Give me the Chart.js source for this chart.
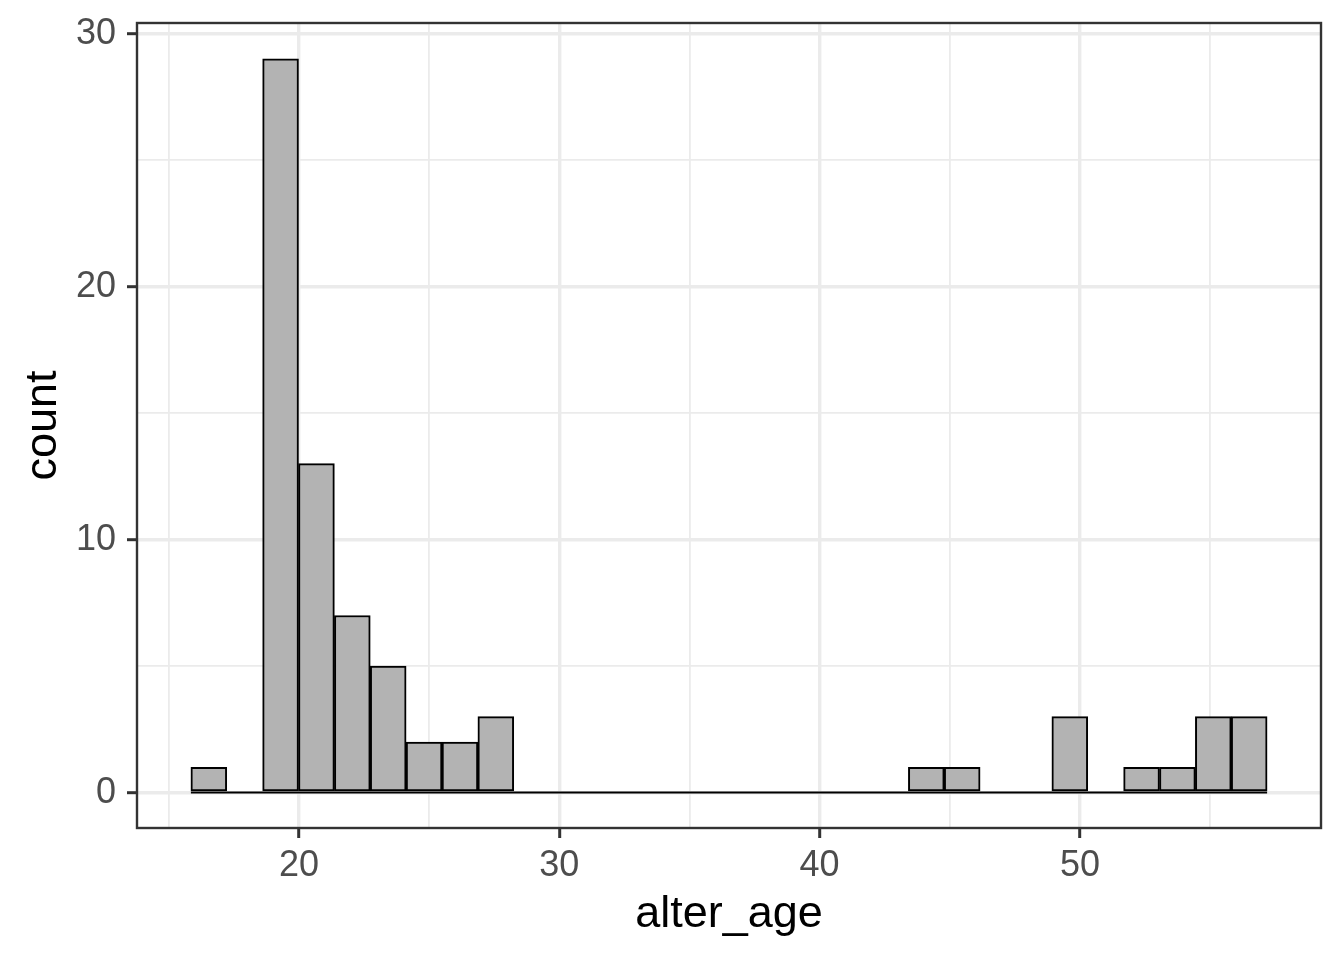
<!DOCTYPE html>
<html>
<head>
<meta charset="utf-8">
<script src="https://cdn.jsdelivr.net/npm/chart.js@4.4.1/dist/chart.umd.min.js"></script>
<style>
  html, body { margin: 0; padding: 0; background: #ffffff; }
  #wrap { width: 1344px; height: 960px; }
</style>
</head>
<body>
<div id="wrap"><canvas id="hist" width="1344" height="960"></canvas></div>
<script>
// histogram of alter_age, 30 bins
var binStart = 15.85;
var binWidth = 1.378;
var counts = [1, 0, 29, 13, 7, 5, 2, 2, 3, 0, 0, 0, 0, 0, 0,
              0, 0, 0, 0, 0, 1, 1, 0, 0, 3, 0, 1, 1, 3, 3];
var xTicks = [15, 20, 25, 30, 35, 40, 45, 50, 55];
var yTicks = [0, 5, 10, 15, 20, 25, 30];
var xRange = [13.78, 59.26];
var yRange = [-1.4, 30.42];

var barPoints = counts.map(function (c, i) {
  return { x: binStart + (i + 0.5) * binWidth, y: c };
});
var baseLine = [
  { x: binStart, y: 0 },
  { x: binStart + counts.length * binWidth, y: 0 }
];

var fontFamily = "'Liberation Sans', Arial, Helvetica, sans-serif";

function isMajor(v) { return Math.abs(v % 10) < 1e-9; }

var panelBorder = {
  id: 'panelBorder',
  afterDatasetsDraw: function (chart) {
    var a = chart.chartArea, ctx = chart.ctx;
    ctx.save();
    ctx.strokeStyle = '#333333';
    ctx.lineWidth = 2.4;
    ctx.strokeRect(a.left, a.top, a.right - a.left, a.bottom - a.top);
    ctx.restore();
  }
};

function gridOpts() {
  return {
    color: '#EBEBEB',
    lineWidth: function (ctx) { return isMajor(ctx.tick.value) ? 3.4 : 1.8; },
    drawTicks: true,
    tickLength: 10,
    tickWidth: 3,
    tickColor: function (ctx) { return isMajor(ctx.tick.value) ? '#333333' : 'rgba(0,0,0,0)'; },
    offset: false
  };
}

function noPad(scale) {
  scale.paddingTop = 0;
  scale.paddingBottom = 0;
  scale.paddingLeft = 0;
  scale.paddingRight = 0;
}

var ctx = document.getElementById('hist');
var chart = new Chart(ctx, {
  data: {
    datasets: [
      {
        type: 'line',
        data: baseLine,
        borderColor: '#000000',
        borderWidth: 2,
        pointRadius: 0,
        order: 2
      },
      {
        type: 'bar',
        data: barPoints,
        backgroundColor: '#B3B3B3',
        borderColor: '#000000',
        borderWidth: 2,
        borderSkipped: false,
        barPercentage: 1,
        categoryPercentage: 1,
        order: 1
      }
    ]
  },
  options: {
    responsive: false,
    animation: false,
    devicePixelRatio: 1,
    layout: { padding: { left: 0, right: 23, top: 23, bottom: 0 } },
    plugins: {
      legend: { display: false },
      tooltip: { enabled: false }
    },
    scales: {
      x: {
        type: 'linear',
        min: xRange[0],
        max: xRange[1],
        offset: false,
        afterBuildTicks: function (scale) {
          scale.ticks = xTicks.map(function (v) { return { value: v }; });
        },
        afterFit: function (scale) { scale.height = 132; noPad(scale); },
        grid: gridOpts(),
        border: { display: false },
        ticks: {
          color: '#4D4D4D',
          font: { family: fontFamily, size: 36 },
          padding: 6,
          maxRotation: 0,
          autoSkip: false,
          callback: function (v) { return isMajor(v) ? String(v) : ''; }
        },
        title: {
          display: true,
          text: 'alter_age',
          color: '#000000',
          font: { family: fontFamily, size: 45 },
          padding: { top: 0, bottom: 18 }
        }
      },
      y: {
        type: 'linear',
        min: yRange[0],
        max: yRange[1],
        afterBuildTicks: function (scale) {
          scale.ticks = yTicks.map(function (v) { return { value: v }; });
        },
        afterFit: function (scale) { scale.width = 137; noPad(scale); },
        grid: gridOpts(),
        border: { display: false },
        ticks: {
          color: '#4D4D4D',
          font: { family: fontFamily, size: 36 },
          padding: 11,
          autoSkip: false,
          callback: function (v) { return isMajor(v) ? String(v) : ''; }
        },
        title: {
          display: true,
          text: 'count',
          color: '#000000',
          font: { family: fontFamily, size: 45 },
          padding: { top: 17, bottom: 0 }
        }
      }
    }
  },
  plugins: [panelBorder]
});
</script>
</body>
</html>
